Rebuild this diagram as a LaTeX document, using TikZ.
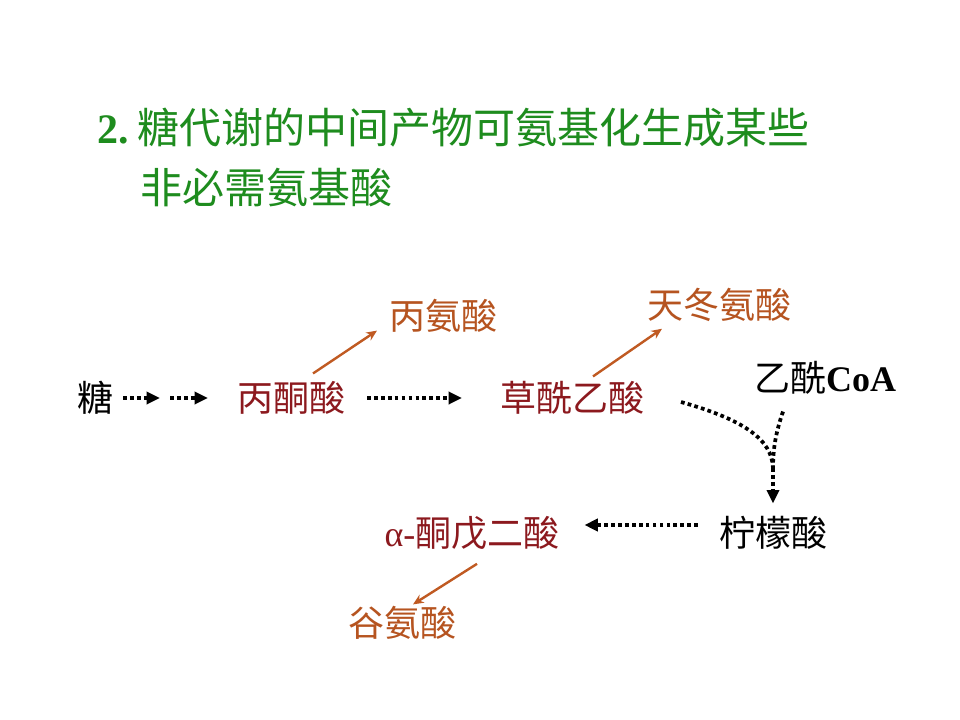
\documentclass[tikz,border=0pt]{standalone}
\usepackage{fontspec}
\setmainfont{Liberation Serif}
\newfontfamily\cjk{Noto Sans CJK SC}
\usetikzlibrary{arrows.meta}

\definecolor{titlegreen}{RGB}{30,140,30}
\definecolor{ketored}{RGB}{140,25,30}
\definecolor{aminoorange}{RGB}{182,84,32}
\definecolor{arroworange}{RGB}{192,90,34}

\begin{document}
\begin{tikzpicture}[x=0.75pt, y=-0.75pt,
    every node/.style={inner sep=0pt, outer sep=0pt},
    chem/.style={font=\cjk\fontsize{27}{30}\selectfont},
    keto/.style={chem, text=ketored},
    amino/.style={chem, text=aminoorange},
    dotline/.style={line width=2.8pt, dash pattern=on 2.8pt off 2.4pt},
    dotarrow/.style={dotline, -{Triangle[length=10pt,width=9pt]}},
    convert/.style={draw=arroworange, line width=1.8pt, -{Stealth[length=8pt,width=7pt]}}]

        \useasboundingbox[fill=white] (0,0) rectangle (960,720);

        % Title
        \node[anchor=west, text=titlegreen, font=\fontsize{31.5}{36}\selectfont] (title1) at (97,128)
            {\textbf{2.}\hspace{7pt}{\cjk 糖代谢的中间产物可氨基化生成某些}};
        \node[anchor=west, text=titlegreen, font=\cjk\fontsize{31.5}{36}\selectfont] (title2) at (140,188)
            {非必需氨基酸};

        % Compounds
        \node[chem] (sugar) at (95,398) {糖};
        \node[keto] (pyr) at (291,398) {丙酮酸};
        \node[amino] (ala) at (443,316) {丙氨酸};
        \node[keto] (oaa) at (572,398) {草酰乙酸};
        \node[amino] (asp) at (719,305) {天冬氨酸};
        \node[chem] (acoa) at (825,378) {乙酰{\rmfamily\bfseries CoA}};
        \node[chem] (cit) at (773,533) {柠檬酸};
        \node[keto] (akg) at (472,533) {{\rmfamily α-}酮戊二酸};
        \node[amino] (glu) at (402,623) {谷氨酸};

        \coordinate (gap) at (165,398);
        \coordinate (merge) at (773,468);

        % Glycolysis
        \draw[dotarrow, shorten <=7.5pt, shorten >=3.75pt] (sugar.east) -- (gap);
        \draw[dotarrow, shorten <=3.75pt, shorten >=21.75pt] (gap) -- (pyr.west);
        \draw[dotarrow, shorten <=16.5pt, shorten >=28.5pt] (pyr.east) -- (oaa.west);

        % Into the cycle
        \draw[dotline] ([shift={(37,4)}]oaa.east) .. controls (745,420) and (772,440) .. (merge);
        \draw[dotline] ([shift={(-42,17)}]acoa.south) .. controls (776,432) and (773,448) .. (merge);
        \draw[dotarrow, shorten >=9.75pt] (merge) -- (cit.north);
        \draw[dotarrow] ([shift={(-21,-8)}]cit.west) -- ([shift={(25,-8)}]akg.east);

        % Amination
        \draw[convert] ([shift={(22,-8)}]pyr.north) -- ([shift={(-12,-2)}]ala.south west);
        \draw[convert] ([shift={(21,-5)}]oaa.north) -- ([shift={(15,7)}]asp.south west);
        \draw[convert] ([shift={(5,14)}]akg.south) -- ([shift={(11,-2)}]glu.north);

\end{tikzpicture}
\end{document}
